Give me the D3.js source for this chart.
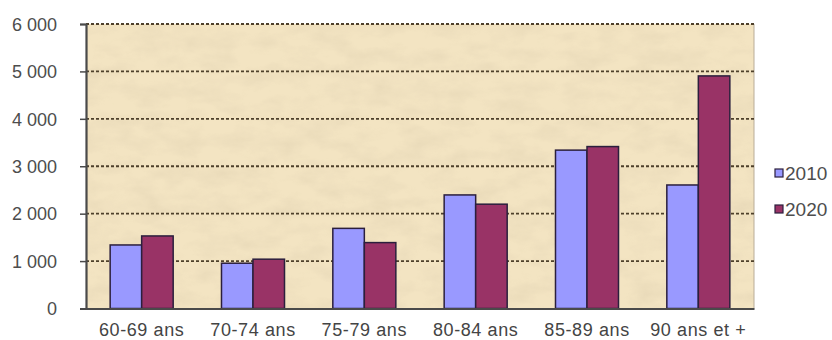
<!DOCTYPE html>
<html>
<head>
<meta charset="utf-8">
<script src="https://cdn.jsdelivr.net/npm/d3@7"></script>
<style>
  html, body { margin: 0; padding: 0; background: #ffffff; }
  svg { display: block; }
  text { font-family: Arial, "Liberation Sans", sans-serif; }
</style>
</head>
<body>
<svg id="chart" width="832" height="340"></svg>
<script>
// Population par tranche d'âge, 2010 et 2020
const categories = ["60-69 ans", "70-74 ans", "75-79 ans", "80-84 ans", "85-89 ans", "90 ans et +"];
const seriesNames = ["2010", "2020"];
const values2010 = [1340, 955, 1690, 2395, 3340, 2605];
const values2020 = [1530, 1040, 1390, 2200, 3415, 4905];
const yTicks = [0, 1000, 2000, 3000, 4000, 5000, 6000];
const colors = ["#9999ff", "#993366"];

const svg = d3.select("#chart");
const plotLeft = 86, plotRight = 754, plotTop = 24, plotBottom = 308.5;

const x0 = d3.scaleBand().domain(categories).range([plotLeft, plotRight])
  .paddingInner(0.434).paddingOuter(0.217);
const x1 = d3.scaleBand().domain(seriesNames).range([0, x0.bandwidth()]);
const y = d3.scaleLinear().domain([0, 6000]).range([plotBottom, plotTop]);

// parchment texture for the plot area
const defs = svg.append("defs");
const f = defs.append("filter").attr("id", "paper")
  .attr("x", 0).attr("y", 0).attr("width", "100%").attr("height", "100%");
f.append("feTurbulence").attr("type", "fractalNoise")
  .attr("baseFrequency", "0.03 0.06").attr("numOctaves", 4).attr("seed", 7).attr("result", "noise");
f.append("feColorMatrix").attr("in", "noise").attr("type", "matrix")
  .attr("values", "0 0 0 0 0.62  0 0 0 0 0.52  0 0 0 0 0.36  0 0 0 -1.5 0.95")
  .attr("result", "tint");
f.append("feComposite").attr("in", "tint").attr("in2", "SourceGraphic").attr("operator", "in");

svg.append("rect").attr("x", plotLeft).attr("y", plotTop)
  .attr("width", plotRight - plotLeft).attr("height", plotBottom - plotTop)
  .attr("fill", "#f3e4c2");
svg.append("rect").attr("x", plotLeft).attr("y", plotTop)
  .attr("width", plotRight - plotLeft).attr("height", plotBottom - plotTop)
  .attr("fill", "#fff").attr("opacity", 0.3)
  .attr("filter", "url(#paper)");

// right border
svg.append("line").attr("x1", plotRight).attr("x2", plotRight).attr("y1", plotTop).attr("y2", plotBottom)
  .attr("stroke", "#b9ad99").attr("stroke-width", 1);

// dashed gridlines
svg.append("g").selectAll("line").data(yTicks.filter(d => d > 0)).join("line")
  .attr("x1", plotLeft).attr("x2", plotRight)
  .attr("y1", d => y(d)).attr("y2", d => y(d))
  .attr("stroke", "#4e402b").attr("stroke-width", 1.8)
  .attr("stroke-dasharray", "3,2");

// bars
const groups = svg.append("g").selectAll("g").data(categories).join("g")
  .attr("transform", d => `translate(${x0(d)},0)`);
groups.selectAll("rect")
  .data((c, i) => [
    { s: "2010", v: values2010[i] },
    { s: "2020", v: values2020[i] }
  ])
  .join("rect")
  .attr("x", d => x1(d.s))
  .attr("y", d => y(d.v))
  .attr("width", x1.bandwidth())
  .attr("height", d => plotBottom - y(d.v))
  .attr("fill", d => colors[seriesNames.indexOf(d.s)])
  .attr("stroke", "#2b1f3d").attr("stroke-width", 1.5);

// y axis
const yAxis = svg.append("g").attr("transform", `translate(${plotLeft},0)`)
  .call(d3.axisLeft(y).tickValues(yTicks).tickSize(6).tickPadding(23)
    .tickFormat(d => d3.format(",")(d).replace(",", " ")));
yAxis.select(".domain").attr("stroke", "#4a4a4a").attr("stroke-width", 2.2);
yAxis.selectAll(".tick line").attr("stroke", "#4a4a4a").attr("stroke-width", 1.5);
yAxis.selectAll("text").attr("fill", "#4d4d4d").attr("font-size", 18).attr("dy", "0.35em");

// x axis
const xAxis = svg.append("g").attr("transform", `translate(0,${plotBottom})`)
  .call(d3.axisBottom(x0).tickSize(0).tickPadding(14));
xAxis.select(".domain").attr("stroke", "#4a4a4a").attr("stroke-width", 2.2);
xAxis.selectAll("text").attr("fill", "#444").attr("font-size", 18)
  .attr("letter-spacing", "0.6px").attr("dy", "0.75em");

// legend
const legend = svg.append("g").selectAll("g").data(seriesNames).join("g")
  .attr("transform", (d, i) => `translate(775,${173 + i * 36})`);
legend.append("rect").attr("x", 0).attr("y", -4).attr("width", 8).attr("height", 8)
  .attr("fill", (d, i) => colors[i]).attr("stroke", "#2b1f3d").attr("stroke-width", 1.2);
legend.append("text").attr("x", 10).attr("y", 0).attr("dy", "0.36em")
  .attr("font-size", 19).attr("fill", "#4d4d4d").text(d => d);
</script>
</body>
</html>
